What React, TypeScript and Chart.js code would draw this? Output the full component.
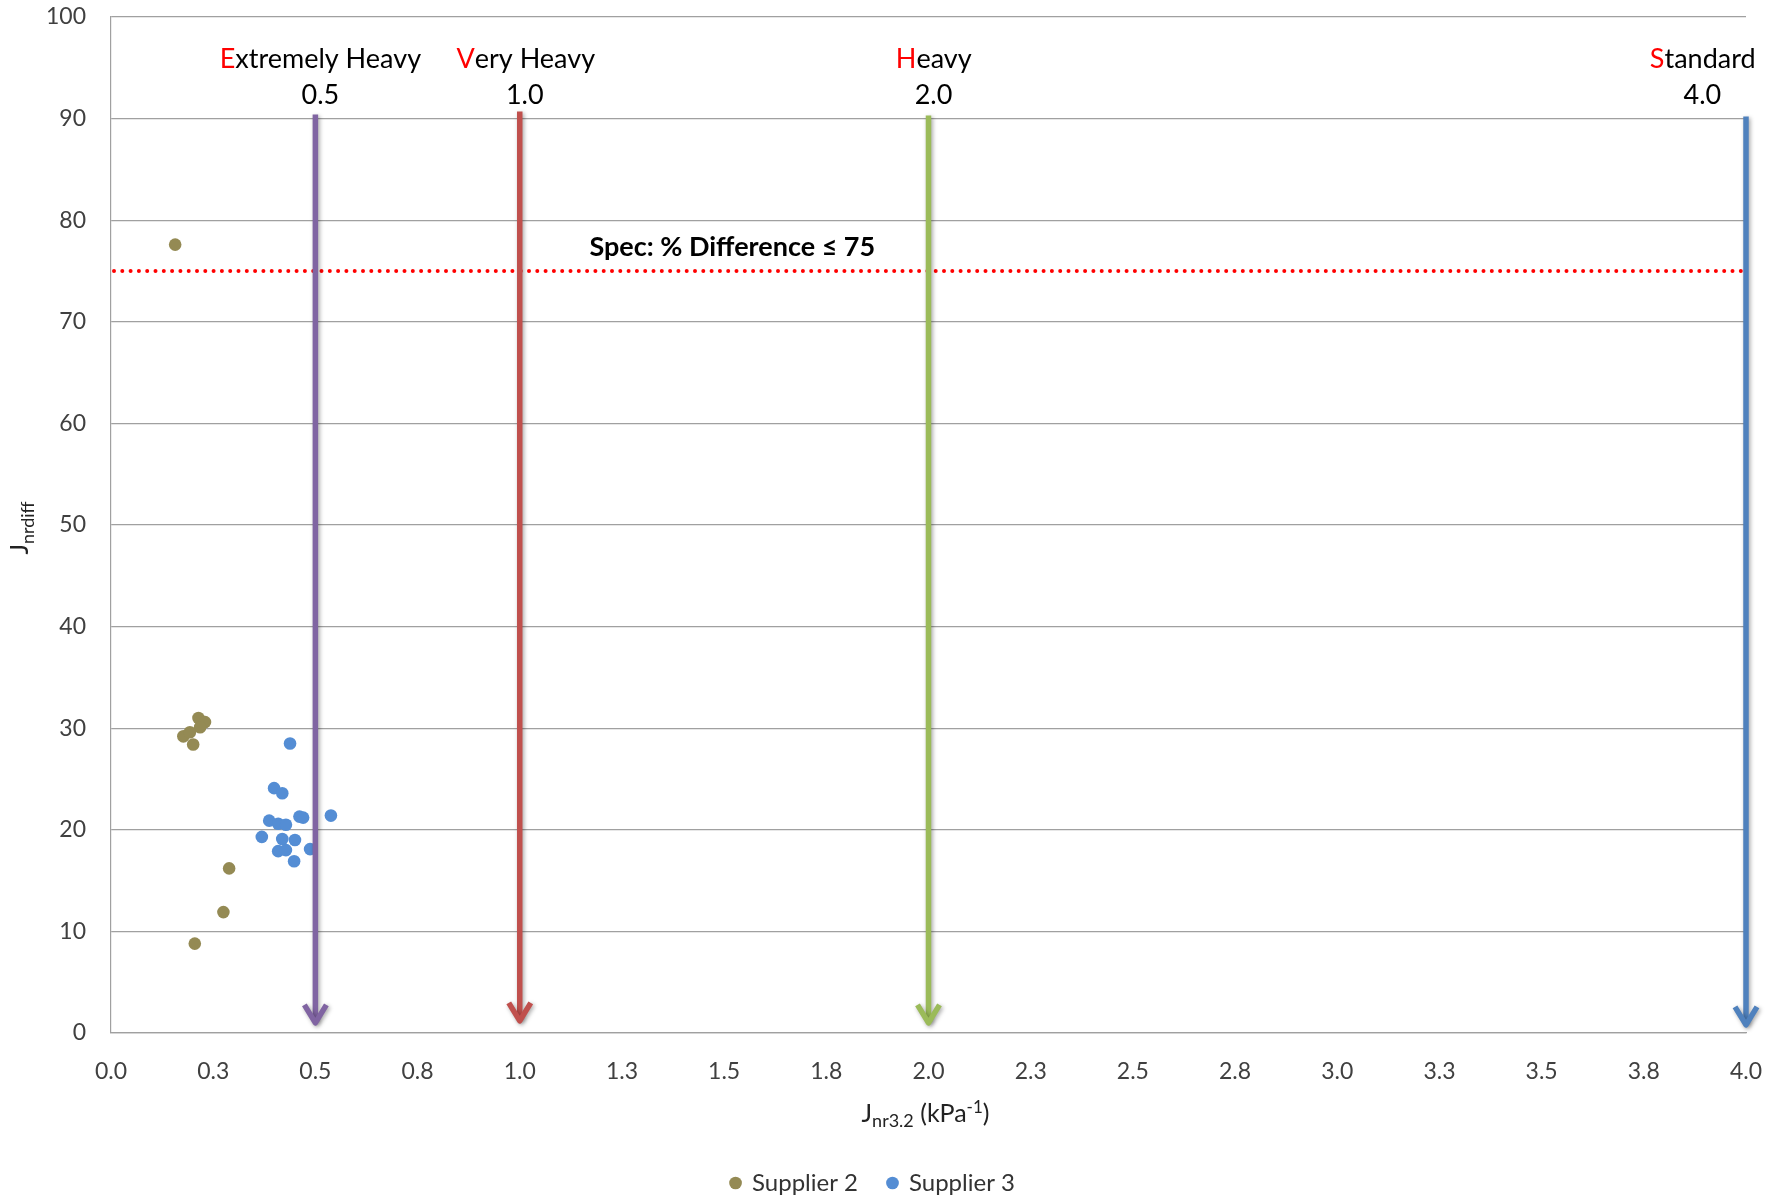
import React, { useEffect, useRef } from 'react';
import { Chart, registerables } from 'chart.js';

Chart.register(...registerables);

const FONT = 'Lato, "Open Sans", "DejaVu Sans", sans-serif';

// ---- data ----
const supplier2X = [0.157, 0.214, 0.230, 0.218, 0.177, 0.201, 0.193, 0.289, 0.275, 0.205];
const supplier2Y = [77.6, 31.0, 30.6, 30.1, 29.2, 28.4, 29.6, 16.2, 11.9, 8.8];

const supplier3X = [0.438, 0.399, 0.419, 0.461, 0.470, 0.538, 0.387, 0.409, 0.428, 0.369, 0.419, 0.450, 0.409, 0.428, 0.487, 0.448];
const supplier3Y = [28.5, 24.1, 23.6, 21.3, 21.2, 21.4, 20.9, 20.6, 20.5, 19.3, 19.1, 19.0, 17.9, 18.0, 18.1, 16.9];

const seriesNames = ['Supplier 2', 'Supplier 3'];
const seriesColors = ['#948A54', '#548DD4'];

const xTickLabels = ['0.0', '0.3', '0.5', '0.8', '1.0', '1.3', '1.5', '1.8', '2.0', '2.3', '2.5', '2.8', '3.0', '3.3', '3.5', '3.8', '4.0'];

const classNames = ['Extremely Heavy', 'Very Heavy', 'Heavy', 'Standard'];
const classLimits = [0.5, 1.0, 2.0, 4.0];
const classLimitLabels = ['0.5', '1.0', '2.0', '4.0'];
const arrowTops = [90.4, 90.7, 90.3, 90.2];
const arrowTips = [0.8, 1.0, 0.8, 0.6];
const arrowColors = ['#8064A2', '#C0504D', '#9BBB59', '#4F81BD'];

const specLimit = 75;
const specText = 'Spec: % Difference \u2264 75';
const specLabelX = 1.52;

type Part = { t: string; size: number; dy: number };

function drawRich(ctx: CanvasRenderingContext2D, parts: Part[], cx: number, baseline: number) {
  let total = 0;
  const widths = parts.map((p) => {
    ctx.font = `${p.size}px ${FONT}`;
    const w = ctx.measureText(p.t).width;
    total += w;
    return w;
  });
  let x = cx - total / 2;
  ctx.textAlign = 'left';
  ctx.textBaseline = 'alphabetic';
  parts.forEach((p, i) => {
    ctx.font = `${p.size}px ${FONT}`;
    ctx.fillText(p.t, x, baseline + p.dy);
    x += widths[i];
  });
}

const annotPlugin = {
  id: 'annot',
  beforeDatasetsDraw(chart: any) {
    const { ctx, scales } = chart;
    const x = scales.x;
    const y = scales.y;
    const py = y.getPixelForValue(specLimit);
    ctx.save();
    ctx.strokeStyle = '#FF0000';
    ctx.lineWidth = 4;
    ctx.lineCap = 'round';
    ctx.setLineDash([0, 8.3]);
    ctx.beginPath();
    ctx.moveTo(x.getPixelForValue(0) + 3, py);
    ctx.lineTo(x.getPixelForValue(4), py);
    ctx.stroke();
    ctx.restore();
  },
  afterDatasetsDraw(chart: any) {
    const { ctx, scales, chartArea } = chart;
    const x = scales.x;
    const y = scales.y;
    // arrows
    classLimits.forEach((v, i) => {
      const px = x.getPixelForValue(v);
      const top = y.getPixelForValue(arrowTops[i]);
      const tip = y.getPixelForValue(arrowTips[i]);
      ctx.save();
      ctx.shadowColor = 'rgba(0,0,0,0.35)';
      ctx.shadowBlur = 4;
      ctx.shadowOffsetX = 1.5;
      ctx.shadowOffsetY = 1.5;
      ctx.strokeStyle = arrowColors[i];
      ctx.lineWidth = 5.5;
      ctx.lineCap = 'butt';
      ctx.lineJoin = 'round';
      ctx.beginPath();
      ctx.moveTo(px, top);
      ctx.lineTo(px, tip - 3);
      ctx.stroke();
      ctx.beginPath();
      ctx.moveTo(px - 11, tip - 20);
      ctx.lineTo(px, tip - 2);
      ctx.lineTo(px + 11, tip - 20);
      ctx.stroke();
      ctx.restore();
    });
    // class labels
    const line2 = y.getPixelForValue(90) - 15;
    const line1 = line2 - 36;
    ctx.save();
    ctx.textBaseline = 'alphabetic';
    ctx.textAlign = 'left';
    classNames.forEach((name, i) => {
      const px = x.getPixelForValue(classLimits[i]);
      ctx.font = `27px ${FONT}`;
      const w = ctx.measureText(name).width;
      const cx = Math.min(px + 5, chartArea.right + 9 - w / 2);
      const first = name.charAt(0);
      const rest = name.slice(1);
      const fw = ctx.measureText(first).width;
      const sx = cx - w / 2;
      ctx.fillStyle = '#FF0000';
      ctx.fillText(first, sx, line1);
      ctx.fillStyle = '#000000';
      ctx.fillText(rest, sx + fw, line1);
      const vw = ctx.measureText(classLimitLabels[i]).width;
      ctx.fillText(classLimitLabels[i], cx - vw / 2, line2);
    });
    // spec text
    ctx.font = `bold 27px ${FONT}`;
    ctx.fillStyle = '#000000';
    ctx.textAlign = 'center';
    ctx.fillText(specText, x.getPixelForValue(specLabelX), y.getPixelForValue(specLimit) - 15);
    ctx.restore();
  },
  afterDraw(chart: any) {
    const { ctx, chartArea } = chart;
    ctx.save();
    ctx.fillStyle = '#222222';
    // x title
    drawRich(
      ctx,
      [
        { t: 'J', size: 25, dy: 0 },
        { t: 'nr3.2', size: 18, dy: 5 },
        { t: ' (kPa', size: 25, dy: 0 },
        { t: '-1', size: 17, dy: -9 },
        { t: ')', size: 25, dy: 0 },
      ],
      (chartArea.left + chartArea.right) / 2 - 3,
      chartArea.bottom + 89
    );
    // y title
    ctx.translate(28, (chartArea.top + chartArea.bottom) / 2 + 3);
    ctx.rotate(-Math.PI / 2);
    drawRich(
      ctx,
      [
        { t: 'J', size: 25, dy: 0 },
        { t: 'nrdiff', size: 18, dy: 6 },
      ],
      0,
      0
    );
    ctx.restore();
  },
};

export default function App() {
  const ref = useRef<HTMLCanvasElement | null>(null);
  useEffect(() => {
    if (!ref.current) return;
    const chart = new Chart(ref.current, {
      type: 'scatter',
      data: {
        datasets: [
          {
            label: seriesNames[0],
            data: supplier2X.map((v, i) => ({ x: v, y: supplier2Y[i] })),
            backgroundColor: seriesColors[0],
            borderColor: seriesColors[0],
            borderWidth: 0,
            pointRadius: 6.3,
            pointStyle: 'circle',
          },
          {
            label: seriesNames[1],
            data: supplier3X.map((v, i) => ({ x: v, y: supplier3Y[i] })),
            backgroundColor: seriesColors[1],
            borderColor: seriesColors[1],
            borderWidth: 0,
            pointRadius: 6.3,
            pointStyle: 'circle',
          },
        ],
      },
      options: {
        animation: false,
        responsive: false,
        maintainAspectRatio: false,
        layout: { padding: { left: 0, right: 35, top: 17, bottom: 0 } },
        plugins: {
          tooltip: { enabled: false },
          legend: {
            position: 'bottom',
            labels: {
              usePointStyle: true,
              pointStyle: 'circle',
              boxWidth: 9,
              boxHeight: 9,
              padding: 30,
              color: '#333333',
              font: { family: FONT, size: 24 },
            },
          },
        },
        scales: {
          x: {
            type: 'linear',
            min: 0,
            max: 4,
            afterFit: (s: any) => {
              s.height = 108;
              s.paddingLeft = 0;
              s.paddingRight = 0;
            },
            grid: { display: false, drawTicks: false },
            border: { display: true, color: '#A0A0A0', width: 1.2 },
            ticks: {
              stepSize: 0.25,
              autoSkip: false,
              maxRotation: 0,
              padding: 25,
              color: '#404040',
              font: { family: FONT, size: 23 },
              callback: (_v: any, i: number) => xTickLabels[i],
            },
          },
          y: {
            type: 'linear',
            min: 0,
            max: 100,
            afterFit: (s: any) => {
              s.width = 111;
              s.paddingTop = 0;
              s.paddingBottom = 0;
            },
            grid: { color: '#A0A0A0', lineWidth: 1.2, drawTicks: false },
            border: { display: true, color: '#A0A0A0', width: 1.2 },
            ticks: {
              stepSize: 10,
              padding: 25,
              color: '#404040',
              font: { family: FONT, size: 23 },
            },
          },
        },
      },
      plugins: [annotPlugin],
    });
    return () => chart.destroy();
  }, []);
  return (
    <canvas
      ref={ref}
      width={1781}
      height={1205}
      style={{ position: 'fixed', left: 0, top: 0, display: 'block', background: '#ffffff' }}
    />
  );
}
